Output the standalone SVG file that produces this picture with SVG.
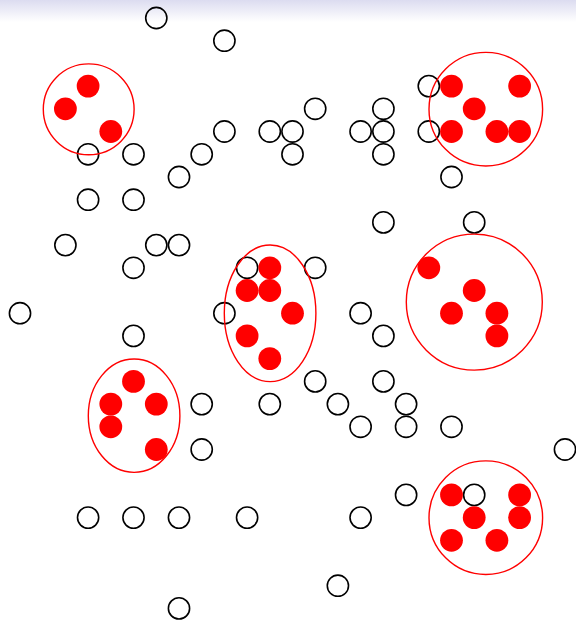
<svg xmlns="http://www.w3.org/2000/svg" width="576" height="622" viewBox="0 0 576 622">
<style>
.o{fill:none;stroke:#000;stroke-width:1.6}
.f{fill:#ff0000;stroke:none}
.g{fill:none;stroke:#ff0000;stroke-width:1.4}
</style>
<defs>
<linearGradient id="top" x1="0" y1="0" x2="0" y2="1">
<stop offset="0" stop-color="#dcdcf0"/>
<stop offset="1" stop-color="#ffffff"/>
</linearGradient>
</defs>
<rect width="576" height="622" fill="#fff"/>
<rect width="576" height="22" fill="url(#top)"/>
<g id="open">
<circle class="o" cx="156.3" cy="18" r="10.6"/>
<circle class="o" cx="224.4" cy="40.7" r="10.6"/>
<circle class="o" cx="428.8" cy="86.1" r="10.6"/>
<circle class="o" cx="315.2" cy="108.8" r="10.6"/>
<circle class="o" cx="383.4" cy="108.8" r="10.6"/>
<circle class="o" cx="224.4" cy="131.5" r="10.6"/>
<circle class="o" cx="269.8" cy="131.5" r="10.6"/>
<circle class="o" cx="292.5" cy="131.5" r="10.6"/>
<circle class="o" cx="360.6" cy="131.5" r="10.6"/>
<circle class="o" cx="383.4" cy="131.5" r="10.6"/>
<circle class="o" cx="428.8" cy="131.5" r="10.6"/>
<circle class="o" cx="88.1" cy="154.3" r="10.6"/>
<circle class="o" cx="133.5" cy="154.3" r="10.6"/>
<circle class="o" cx="201.7" cy="154.3" r="10.6"/>
<circle class="o" cx="292.5" cy="154.3" r="10.6"/>
<circle class="o" cx="383.4" cy="154.3" r="10.6"/>
<circle class="o" cx="179" cy="177" r="10.6"/>
<circle class="o" cx="451.5" cy="177" r="10.6"/>
<circle class="o" cx="88.1" cy="199.7" r="10.6"/>
<circle class="o" cx="133.5" cy="199.7" r="10.6"/>
<circle class="o" cx="383.4" cy="222.4" r="10.6"/>
<circle class="o" cx="474.2" cy="222.4" r="10.6"/>
<circle class="o" cx="65.4" cy="245.1" r="10.6"/>
<circle class="o" cx="156.3" cy="245.1" r="10.6"/>
<circle class="o" cx="179" cy="245.1" r="10.6"/>
<circle class="o" cx="133.5" cy="267.8" r="10.6"/>
<circle class="o" cx="247.1" cy="267.8" r="10.6"/>
<circle class="o" cx="315.2" cy="267.8" r="10.6"/>
<circle class="o" cx="20" cy="313.2" r="10.6"/>
<circle class="o" cx="224.4" cy="313.2" r="10.6"/>
<circle class="o" cx="360.6" cy="313.2" r="10.6"/>
<circle class="o" cx="133.5" cy="335.9" r="10.6"/>
<circle class="o" cx="383.4" cy="335.9" r="10.6"/>
<circle class="o" cx="315.2" cy="381.4" r="10.6"/>
<circle class="o" cx="383.4" cy="381.4" r="10.6"/>
<circle class="o" cx="201.7" cy="404.1" r="10.6"/>
<circle class="o" cx="269.8" cy="404.1" r="10.6"/>
<circle class="o" cx="337.9" cy="404.1" r="10.6"/>
<circle class="o" cx="406.1" cy="404.1" r="10.6"/>
<circle class="o" cx="360.6" cy="426.8" r="10.6"/>
<circle class="o" cx="406.1" cy="426.8" r="10.6"/>
<circle class="o" cx="451.5" cy="426.8" r="10.6"/>
<circle class="o" cx="201.7" cy="449.5" r="10.6"/>
<circle class="o" cx="565" cy="449.5" r="10.6"/>
<circle class="o" cx="406.1" cy="494.9" r="10.6"/>
<circle class="o" cx="474.2" cy="494.9" r="10.6"/>
<circle class="o" cx="88.1" cy="517.6" r="10.6"/>
<circle class="o" cx="133.5" cy="517.6" r="10.6"/>
<circle class="o" cx="179" cy="517.6" r="10.6"/>
<circle class="o" cx="247.1" cy="517.6" r="10.6"/>
<circle class="o" cx="360.6" cy="517.6" r="10.6"/>
<circle class="o" cx="337.9" cy="585.7" r="10.6"/>
<circle class="o" cx="179" cy="608.4" r="10.6"/>
</g>
<g id="cluster1">
<circle class="f" cx="88.1" cy="86.1" r="11.4"/>
<circle class="f" cx="65.4" cy="108.8" r="11.4"/>
<circle class="f" cx="110.8" cy="131.5" r="11.4"/>
<circle class="g" cx="88.7" cy="109.3" r="45.4"/>
</g>
<g id="cluster2">
<circle class="f" cx="451.5" cy="86.1" r="11.4"/>
<circle class="f" cx="519.6" cy="86.1" r="11.4"/>
<circle class="f" cx="474.2" cy="108.8" r="11.4"/>
<circle class="f" cx="451.5" cy="131.5" r="11.4"/>
<circle class="f" cx="496.9" cy="131.5" r="11.4"/>
<circle class="f" cx="519.6" cy="131.5" r="11.4"/>
<circle class="g" cx="485.8" cy="109.2" r="56.8"/>
</g>
<g id="cluster3">
<circle class="f" cx="269.8" cy="267.8" r="11.4"/>
<circle class="f" cx="247.1" cy="290.5" r="11.4"/>
<circle class="f" cx="269.8" cy="290.5" r="11.4"/>
<circle class="f" cx="292.5" cy="313.2" r="11.4"/>
<circle class="f" cx="247.1" cy="335.9" r="11.4"/>
<circle class="f" cx="269.8" cy="358.6" r="11.4"/>
<ellipse class="g" cx="270.1" cy="313.3" rx="45.8" ry="68.3"/>
</g>
<g id="cluster4">
<circle class="f" cx="428.8" cy="267.8" r="11.4"/>
<circle class="f" cx="474.2" cy="290.5" r="11.4"/>
<circle class="f" cx="451.5" cy="313.2" r="11.4"/>
<circle class="f" cx="496.9" cy="313.2" r="11.4"/>
<circle class="f" cx="496.9" cy="335.9" r="11.4"/>
<circle class="g" cx="474.3" cy="302.1" r="68"/>
</g>
<g id="cluster5">
<circle class="f" cx="133.5" cy="381.4" r="11.4"/>
<circle class="f" cx="110.8" cy="404.1" r="11.4"/>
<circle class="f" cx="156.3" cy="404.1" r="11.4"/>
<circle class="f" cx="110.8" cy="426.8" r="11.4"/>
<circle class="f" cx="156.3" cy="449.5" r="11.4"/>
<ellipse class="g" cx="134.1" cy="415.7" rx="45.8" ry="56.7"/>
</g>
<g id="cluster6">
<circle class="f" cx="451.5" cy="494.9" r="11.4"/>
<circle class="f" cx="519.6" cy="494.9" r="11.4"/>
<circle class="f" cx="474.2" cy="517.6" r="11.4"/>
<circle class="f" cx="519.6" cy="517.6" r="11.4"/>
<circle class="f" cx="451.5" cy="540.3" r="11.4"/>
<circle class="f" cx="496.9" cy="540.3" r="11.4"/>
<circle class="g" cx="485.8" cy="517.7" r="56.8"/>
</g>
</svg>
